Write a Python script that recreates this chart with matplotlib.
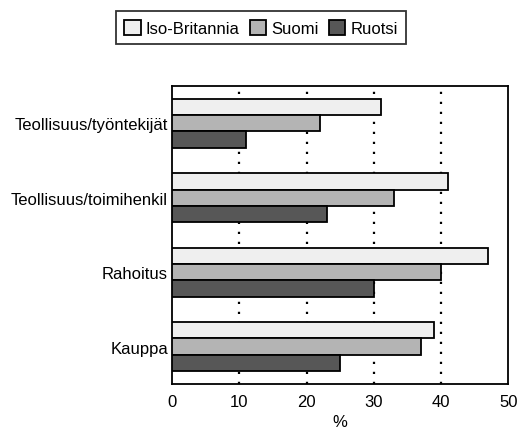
import matplotlib
matplotlib.use("Agg")
import matplotlib.pyplot as plt
import numpy as np

categories = ["Teollisuus/työntekijät", "Teollisuus/toimihenkil", "Rahoitus", "Kauppa"]
series_names = ["Iso-Britannia", "Suomi", "Ruotsi"]
iso_britannia = [31, 41, 47, 39]
suomi = [22, 33, 40, 37]
ruotsi = [11, 23, 30, 25]
xticks = [0, 10, 20, 30, 40, 50]

plt.rcParams['font.family'] = ['Liberation Sans', 'DejaVu Sans']

fig = plt.figure(figsize=(5.25, 4.31), dpi=100)
ax = fig.add_axes([0.328, 0.107, 0.640, 0.691])

colors = ["#efefef", "#b4b4b4", "#575757"]
h = 0.22
y = np.arange(len(categories))
data = [iso_britannia, suomi, ruotsi]
bars = []
for i, (vals, name, c) in enumerate(zip(data, series_names, colors)):
    b = ax.barh(y + (i - 1) * h, vals, height=h, color=c, edgecolor="black",
                linewidth=1.3, label=name, zorder=3)
    bars.append(b)

for xv in [10, 20, 30, 40]:
    ax.axvline(xv, color="black", linestyle=(0, (1, 3.5)), linewidth=1.6, zorder=1)

fs = 12
ax.set_xlim(0, 50)
ax.set_ylim(3.5, -0.5)
ax.set_xticks(xticks)
ax.set_xticklabels([str(t) for t in xticks], fontsize=fs)
ax.set_yticks(y)
ax.set_yticklabels(categories, fontsize=fs)
ax.tick_params(axis="both", length=0, pad=3)
ax.tick_params(axis="x", pad=7)
for s in ax.spines.values():
    s.set_linewidth(1.3)
    s.set_color("black")
ax.set_xlabel("%", fontsize=fs, labelpad=4)

leg = fig.legend(handles=bars, labels=series_names, loc="center",
                 bbox_to_anchor=(0.497, 0.933), ncol=3, fontsize=fs,
                 frameon=True, fancybox=False, edgecolor="black",
                 handlelength=1.0, handleheight=1.0, handletextpad=0.3,
                 columnspacing=0.6, borderpad=0.5)
leg.get_frame().set_linewidth(1.3)

fig.savefig("out.png", dpi=100)
